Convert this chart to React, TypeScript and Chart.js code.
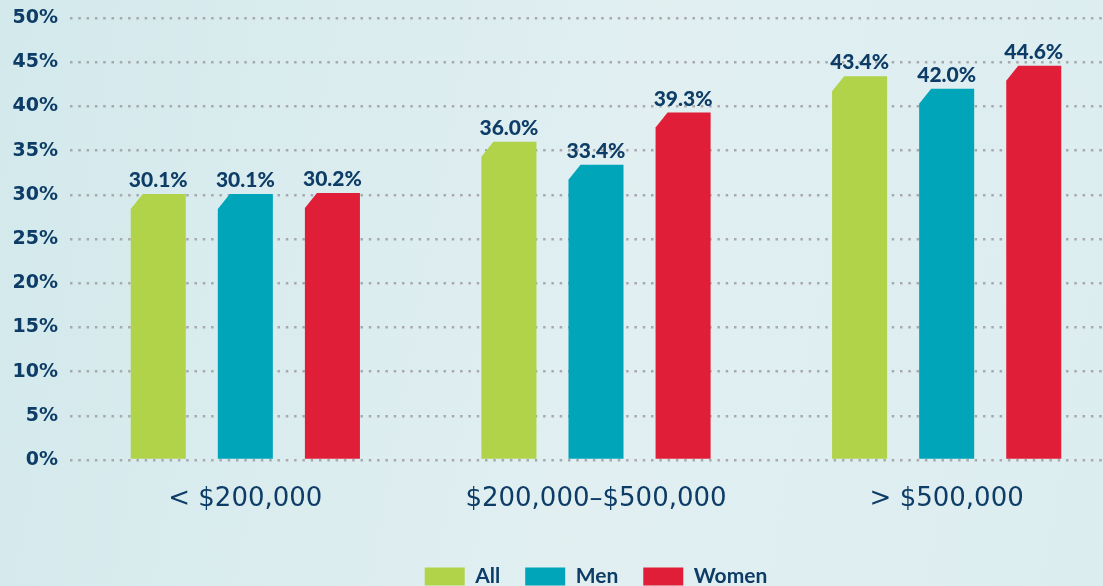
import React, { useEffect, useRef } from 'react';
import { Chart, registerables } from 'chart.js';

Chart.register(...registerables);

const categories = ['< $200,000', '$200,000\u2013$500,000', '> $500,000'];
const seriesNames = ['All', 'Men', 'Women'];
const allValues = [30.1, 36.0, 43.4];
const menValues = [30.1, 33.4, 42.0];
const womenValues = [30.2, 39.3, 44.6];
const seriesColors = ['#b1d34a', '#00a5ba', '#e01e37'];
const yMin = 0;
const yMax = 50;
const yStep = 5;

const NAVY = '#0d3d66';

const cutBarPlugin = {
  id: 'cutBars',
  beforeDatasetDraw(chart: any, args: any) {
    const ctx = chart.ctx;
    const ds = chart.data.datasets[args.index];
    ctx.save();
    ctx.fillStyle = ds.backgroundColor;
    args.meta.data.forEach((el: any) => {
      const { x, y, base, width } = el.getProps(['x', 'y', 'base', 'width'], true);
      const l = x - width / 2;
      const r = x + width / 2;
      const cutW = 12;
      const cutH = 15;
      ctx.beginPath();
      ctx.moveTo(l, base);
      ctx.lineTo(l, y + cutH);
      ctx.lineTo(l + cutW, y);
      ctx.lineTo(r, y);
      ctx.lineTo(r, base);
      ctx.closePath();
      ctx.fill();
    });
    ctx.restore();
    return false;
  },
};

const valueLabelPlugin = {
  id: 'valueLabels',
  afterDatasetsDraw(chart: any) {
    const ctx = chart.ctx;
    ctx.save();
    ctx.fillStyle = NAVY;
    ctx.font = '900 21px Lato';
    ctx.textAlign = 'center';
    ctx.textBaseline = 'alphabetic';
    chart.data.datasets.forEach((ds: any, di: number) => {
      const meta = chart.getDatasetMeta(di);
      meta.data.forEach((el: any, i: number) => {
        const { x, y } = el.getProps(['x', 'y'], true);
        ctx.fillText(Number(ds.data[i]).toFixed(1) + '%', x, y - 7);
      });
    });
    ctx.restore();
  },
};

export default function App() {
  const canvasRef = useRef<HTMLCanvasElement | null>(null);

  useEffect(() => {
    if (!canvasRef.current) return;
    const seriesValues = [allValues, menValues, womenValues];
    const chart = new Chart(canvasRef.current, {
      type: 'bar',
      data: {
        labels: categories,
        datasets: seriesNames.map((name, i) => ({
          label: name,
          data: seriesValues[i],
          backgroundColor: seriesColors[i],
          borderWidth: 0,
          barPercentage: 0.632,
          categoryPercentage: 0.745,
        })),
      },
      options: {
        responsive: false,
        animation: false,
        devicePixelRatio: 1,
        layout: { padding: { top: 18, right: 0, bottom: 0, left: 0 } },
        plugins: {
          legend: {
            position: 'bottom',
            fullSize: false,
            align: 'center',
            labels: {
              boxWidth: 40,
              boxHeight: 18,
              padding: 25,
              color: NAVY,
              font: { family: 'Lato', size: 21, weight: 'bold' },
            },
          },
          tooltip: { enabled: false },
        },
        scales: {
          x: {
            type: 'category',
            grid: { display: false, drawTicks: false },
            border: { display: false },
            ticks: {
              color: NAVY,
              padding: 24,
              font: { family: 'DejaVu Sans', size: 26 },
            },
            afterFit: (scale: any) => {
              scale.height = 81;
            },
          },
          y: {
            min: yMin,
            max: yMax,
            ticks: {
              stepSize: yStep,
              color: NAVY,
              padding: 12,
              font: { family: 'DejaVu Sans', size: 19, weight: 'bold' },
              callback: (v: any) => v + '%',
            },
            grid: { color: '#a8a9ae', lineWidth: 2.5, drawTicks: false },
            border: { display: false, dash: [2.5, 5.8] },
            afterFit: (scale: any) => {
              scale.width = 70;
              scale.paddingTop = 0;
              scale.paddingBottom = 0;
            },
          },
        },
      },
      plugins: [cutBarPlugin, valueLabelPlugin],
    } as any);
    return () => chart.destroy();
  }, []);

  return (
    <div
      style={{
        position: 'fixed',
        left: 0,
        top: 0,
        width: 1103,
        height: 586,
        overflow: 'hidden',
        background: 'linear-gradient(100deg, #d3e9ec 0%, #e1eff1 55%, #dcedf0 100%)',
      }}
    >
      <canvas ref={canvasRef} width={1122} height={597} style={{ display: 'block' }} />
    </div>
  );
}
